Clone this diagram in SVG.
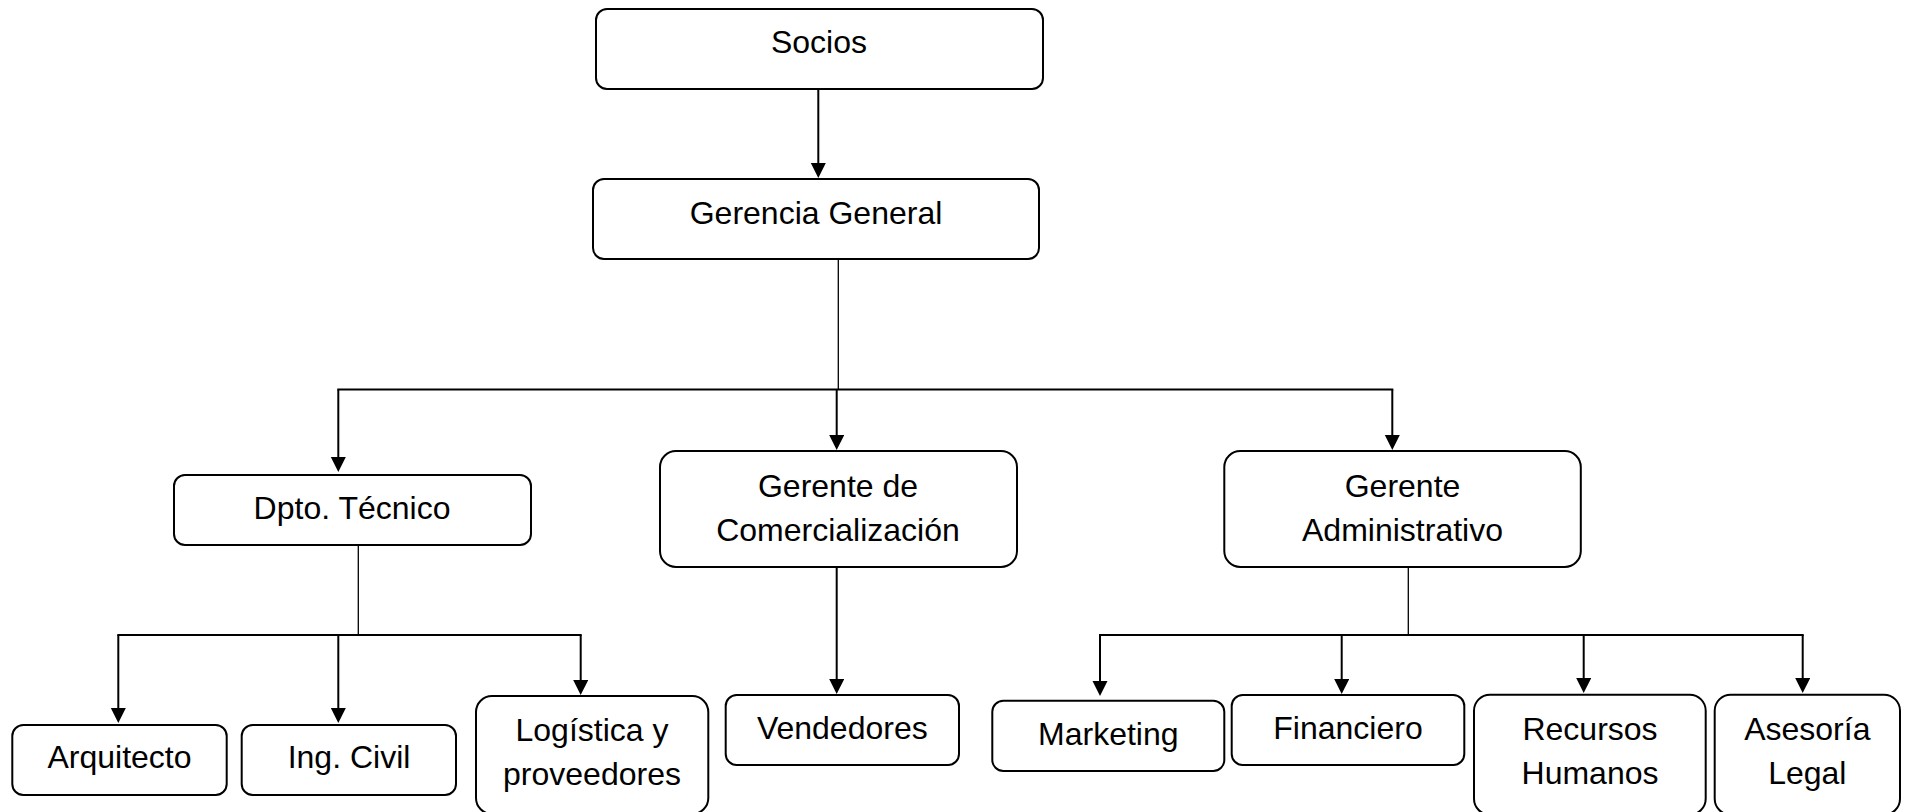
<svg xmlns="http://www.w3.org/2000/svg" width="1910" height="812" viewBox="0 0 1910 812">
<style>
.box{fill:#fff;stroke:#000;stroke-width:2}
.t{font-family:"Liberation Sans",Arial,sans-serif;font-size:32px;fill:#000;text-anchor:middle}
.ln{fill:none;stroke:#000;stroke-width:2}
.stem{fill:none;stroke:#000;stroke-width:1.3}
.arr{fill:none;stroke:#000;stroke-width:2;marker-end:url(#ah)}
</style>
<defs>
<marker id="ah" markerUnits="userSpaceOnUse" markerWidth="16" markerHeight="16" refX="11" refY="7.5" orient="auto">
<path d="M0,0 L15,7.5 L0,15 z" fill="#000"/>
</marker>
</defs>
<rect width="1910" height="812" fill="#fff"/>
<g id="connectors">
<line class="arr" x1="818.3" y1="89" x2="818.3" y2="174"/>
<line class="stem" x1="838.3" y1="259" x2="838.3" y2="389.5"/>
<line class="ln" x1="337.3" y1="389.5" x2="1393.3" y2="389.5"/>
<line class="arr" x1="338.3" y1="389.5" x2="338.3" y2="468"/>
<line class="arr" x1="836.7" y1="389.5" x2="836.7" y2="446"/>
<line class="arr" x1="1392.3" y1="389.5" x2="1392.3" y2="446"/>
<line class="stem" x1="358.3" y1="545" x2="358.3" y2="635"/>
<line class="ln" x1="117.3" y1="635" x2="581.7" y2="635"/>
<line class="arr" x1="118.3" y1="635" x2="118.3" y2="719"/>
<line class="arr" x1="338.3" y1="635" x2="338.3" y2="719"/>
<line class="arr" x1="580.7" y1="635" x2="580.7" y2="691"/>
<line class="arr" x1="836.7" y1="566.7" x2="836.7" y2="690"/>
<line class="stem" x1="1408.3" y1="566.7" x2="1408.3" y2="635"/>
<line class="ln" x1="1099" y1="635" x2="1803.7" y2="635"/>
<line class="arr" x1="1100" y1="635" x2="1100" y2="692"/>
<line class="arr" x1="1341.7" y1="635" x2="1341.7" y2="690"/>
<line class="arr" x1="1583.7" y1="635" x2="1583.7" y2="689"/>
<line class="arr" x1="1802.7" y1="635" x2="1802.7" y2="689"/>
</g>
<g id="socios"><rect class="box" x="596" y="9" width="447" height="80" rx="11"/><text class="t" x="819" y="53">Socios</text></g>
<g id="gerencia-general"><rect class="box" x="593" y="179" width="446" height="80" rx="11"/><text class="t" x="816" y="224">Gerencia General</text></g>
<g id="dpto-tecnico"><rect class="box" x="174" y="475" width="357" height="70" rx="11"/><text class="t" x="352" y="519">Dpto. Técnico</text></g>
<g id="gerente-comercializacion"><rect class="box" x="660" y="451" width="357" height="116" rx="16"/><text class="t" x="838" y="497">Gerente de</text><text class="t" x="838" y="541">Comercialización</text></g>
<g id="gerente-administrativo"><rect class="box" x="1224.3" y="451" width="356.5" height="116" rx="16"/><text class="t" x="1402.5" y="497">Gerente</text><text class="t" x="1402.5" y="541">Administrativo</text></g>
<g id="arquitecto"><rect class="box" x="12.3" y="725" width="214.4" height="70" rx="11"/><text class="t" x="119.5" y="768">Arquitecto</text></g>
<g id="ing-civil"><rect class="box" x="241.7" y="725" width="214.3" height="70" rx="11"/><text class="t" x="349" y="768">Ing. Civil</text></g>
<g id="logistica"><rect class="box" x="476" y="696" width="232.3" height="118" rx="16"/><text class="t" x="592" y="741">Logística y</text><text class="t" x="592" y="785">proveedores</text></g>
<g id="vendedores"><rect class="box" x="725.7" y="695" width="233.3" height="70" rx="11"/><text class="t" x="842.3" y="739">Vendedores</text></g>
<g id="marketing"><rect class="box" x="992.3" y="700.7" width="232" height="70.3" rx="11"/><text class="t" x="1108.3" y="745">Marketing</text></g>
<g id="financiero"><rect class="box" x="1231.7" y="695" width="232.6" height="70" rx="11"/><text class="t" x="1348" y="739">Financiero</text></g>
<g id="recursos-humanos"><rect class="box" x="1474" y="694.7" width="231.7" height="120" rx="16"/><text class="t" x="1590" y="740">Recursos</text><text class="t" x="1590" y="784">Humanos</text></g>
<g id="asesoria-legal"><rect class="box" x="1714.7" y="694.7" width="185.3" height="120" rx="16"/><text class="t" x="1807.3" y="740">Asesoría</text><text class="t" x="1807.3" y="784">Legal</text></g>
</svg>
